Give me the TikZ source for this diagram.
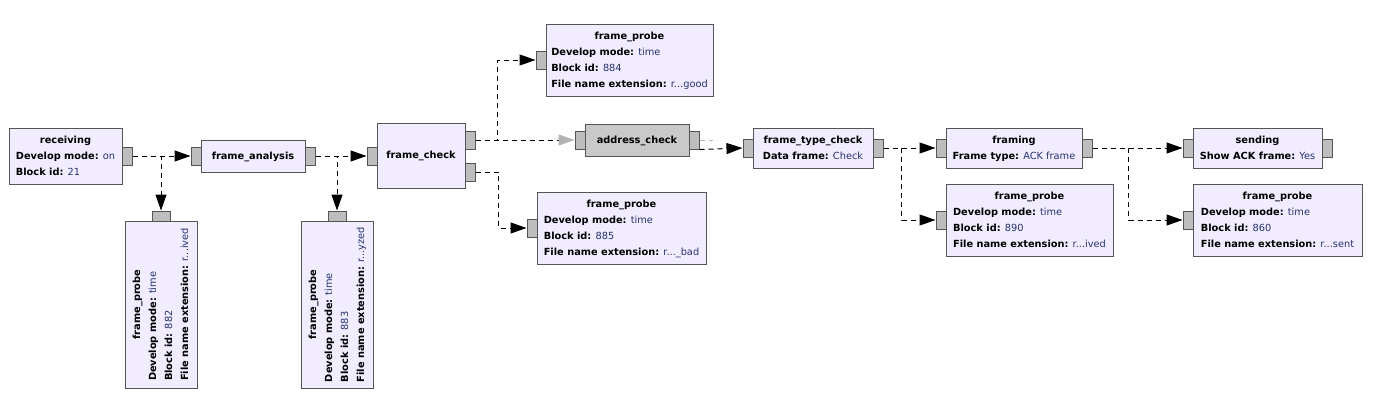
\documentclass[tikz,border=0pt]{standalone}
\usepackage{fontspec}
\setmainfont{DejaVu Sans}
\usepackage{xcolor}
\usetikzlibrary{positioning,arrows.meta}
\definecolor{blkfill}{HTML}{F1ECFF}
\definecolor{blkline}{HTML}{555555}
\definecolor{portfill}{HTML}{BDBDBD}
\definecolor{offfill}{HTML}{C9C9C9}
\definecolor{offgray}{HTML}{B3B3B3}
\definecolor{valblue}{HTML}{26336E}
\newcommand{\hd}[1]{\multicolumn{1}{@{}c@{}}{\bfseries #1}}
\newcommand{\kv}[2]{\textbf{#1:} \textcolor{valblue}{#2}}
\newcommand{\blocktext}[1]{\begin{tabular}{@{}l@{}}#1\end{tabular}}
\tikzset{
  blk/.style={draw=blkline, fill=blkfill, line width=1pt, inner sep=0pt,
              align=center, font=\fontsize{9.8}{16}\selectfont},
  offblk/.style={blk, fill=offfill},
  port/.style={draw=blkline, fill=portfill, line width=1pt, inner sep=0pt,
               minimum width=10pt, minimum height=18pt},
  vport/.style={port, minimum width=18pt, minimum height=10pt},
  conn/.style={dash pattern=on 5pt off 4pt, line width=1pt,
               -{Triangle[length=16pt, width=11pt]}},
  offconn/.style={dash pattern=on 5pt off 4pt, line width=1pt,
               -{Triangle[length=16pt, width=11pt, color=offgray]}},
}

\begin{document}
\begin{tikzpicture}[x=1pt, y=-1pt]
  \fill[white] (0,0) rectangle (1389,418);
  \useasboundingbox (0,0) rectangle (1389,418);

  % Receive side
  \node[blk, minimum width=113pt, minimum height=56pt] (recv) at (65.5,156)
    {\blocktext{\hd{receiving}\\ \kv{Develop mode}{on}\\ \kv{Block id}{21}}};
  \node[blk, minimum width=104pt, minimum height=32pt] (fa) at (253,156)
    {\blocktext{\hd{frame\_analysis}}};
  \node[blk, rotate=90, minimum width=167pt, minimum height=72pt] (p882) at (161,304.5)
    {\blocktext{\hd{frame\_probe}\\ \kv{Develop mode}{time}\\ \kv{Block id}{882}\\ \kv{File name extension}{r...ived}}};
  \node[blk, rotate=90, minimum width=167pt, minimum height=72pt] (p883) at (337,304.5)
    {\blocktext{\hd{frame\_probe}\\ \kv{Develop mode}{time}\\ \kv{Block id}{883}\\ \kv{File name extension}{r...yzed}}};

  % Frame check and its probes
  \node[blk, minimum width=88pt, minimum height=65pt] (fc) at (421,155.5)
    {\blocktext{\hd{frame\_check}}};
  \node[blk, minimum width=167pt, minimum height=72pt] (p884) at (629.5,60)
    {\blocktext{\hd{frame\_probe}\\ \kv{Develop mode}{time}\\ \kv{Block id}{884}\\ \kv{File name extension}{r...good}}};
  \node[offblk, minimum width=104pt, minimum height=32pt] (ac) at (637,140)
    {\blocktext{\hd{address\_check}}};
  \node[blk, minimum width=169pt, minimum height=72pt] (p885) at (621.5,228)
    {\blocktext{\hd{frame\_probe}\\ \kv{Develop mode}{time}\\ \kv{Block id}{885}\\ \kv{File name extension}{r...\_bad}}};

  % Send side
  \node[blk, minimum width=120pt, minimum height=40pt] (ftc) at (813,148)
    {\blocktext{\hd{frame\_type\_check}\\ \kv{Data frame}{Check}}};
  \node[blk, minimum width=136pt, minimum height=40pt] (fr) at (1014,148)
    {\blocktext{\hd{framing}\\ \kv{Frame type}{ACK frame}}};
  \node[blk, minimum width=167pt, minimum height=72pt] (p890) at (1029.5,220)
    {\blocktext{\hd{frame\_probe}\\ \kv{Develop mode}{time}\\ \kv{Block id}{890}\\ \kv{File name extension}{r...ived}}};
  \node[blk, minimum width=129pt, minimum height=40pt] (snd) at (1257.5,148)
    {\blocktext{\hd{sending}\\ \kv{Show ACK frame}{Yes}}};
  \node[blk, minimum width=169pt, minimum height=72pt] (p860) at (1277.5,220)
    {\blocktext{\hd{frame\_probe}\\ \kv{Develop mode}{time}\\ \kv{Block id}{860}\\ \kv{File name extension}{r...sent}}};

  % Ports
  \node[port] (recv-o) at (127,156) {};
  \node[port] (fa-i) at (196,156) {};
  \node[port] (fa-o) at (310,156) {};
  \node[vport] (p882-i) at (161,216) {};
  \node[vport] (p883-i) at (337,216) {};
  \node[port] (fc-i) at (372,156) {};
  \node[port] (fc-o1) at (470,140) {};
  \node[port] (fc-o2) at (470,172) {};
  \node[port] (p884-i) at (541,60) {};
  \node[port] (ac-i) at (580,140) {};
  \node[port] (ac-o) at (694,140) {};
  \node[port] (p885-i) at (532,228) {};
  \node[port] (ftc-i) at (748,148) {};
  \node[port] (ftc-o) at (878,148) {};
  \node[port] (fr-i) at (941,148) {};
  \node[port] (fr-o) at (1087,148) {};
  \node[port] (p890-i) at (941,220) {};
  \node[port] (snd-i) at (1188,148) {};
  \node[port] (snd-o) at (1327,148) {};
  \node[port] (p860-i) at (1188,220) {};

  % Connections
  \draw[conn] (recv-o.east) -- (fa-i.west);
  \draw[conn] (recv-o.east) -| (p882-i.north);
  \draw[conn] (fa-o.east) -- (fc-i.west);
  \draw[conn] (fa-o.east) -| (p883-i.north);
  \draw[conn] (fc-o1.east) -- ++(22,0) |- (p884-i.west);
  \draw[offconn] (fc-o1.east) -- (ac-i.west);
  \draw[conn] (fc-o2.east) -- ++(23,0) |- (p885-i.west);
  \draw[offgray, line width=1pt, dash pattern=on 5pt off 4pt] (ac-o.east) -- ++(13,0) -- ++(0,4);
  \draw[conn] (ac-o.south east) -- (ftc-i.west);
  \draw[conn] (ftc-o.east) -- (fr-i.west);
  \draw[conn] (ftc-o.east) -- ++(18,0) |- (p890-i.west);
  \draw[conn] (fr-o.east) -- (snd-i.west);
  \draw[conn] (fr-o.east) -- ++(36,0) |- (p860-i.west);

\end{tikzpicture}
\end{document}
